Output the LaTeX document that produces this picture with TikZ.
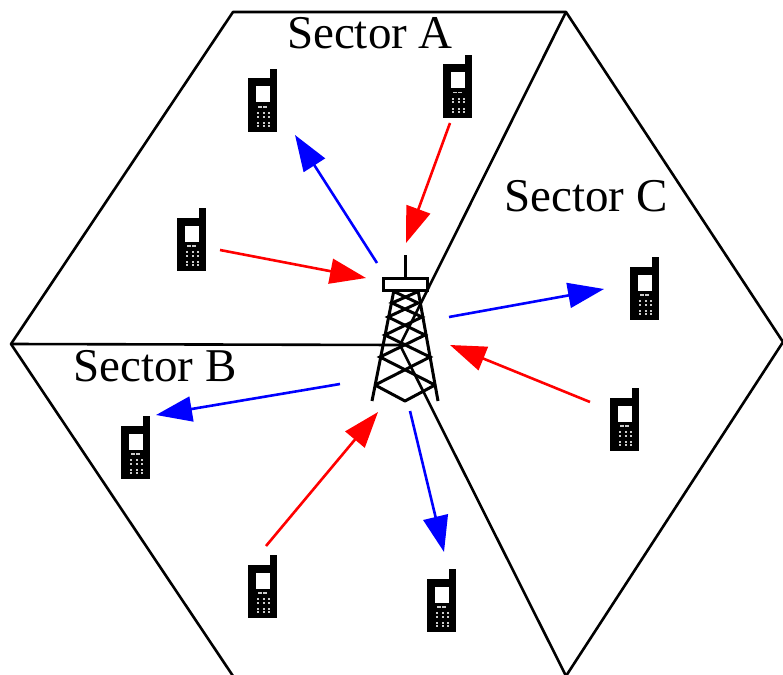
\documentclass[tikz,border=0pt]{standalone}
\usepackage{fontspec}
\setmainfont{Liberation Serif}
\usetikzlibrary{arrows.meta}
\tikzset{
    cell/.style = {
        draw=black,
        line width=2.6pt,
        line join=round,
    },
    tower/.style = {
        draw=black,
        line width=3pt,
    },
    sector/.style = {
        font=\fontsize{47}{47}\selectfont,
        inner sep=0pt,
    },
    phone/.style = {
        minimum width=29pt,
        minimum height=63pt,
        inner sep=0pt,
        outer sep=0pt,
        path picture={
            \fill[black] (path picture bounding box.north east) rectangle ++(-7,63);
            \fill[black] ([yshift=-9.5pt] path picture bounding box.north west) rectangle (path picture bounding box.south east);
            \fill[white] ([shift={(8,17.5)}] path picture bounding box.north west) rectangle ++(14,16);
            \foreach \px in {9.5,15} {
                \fill[white!80!black] ([shift={(\px,37)}] path picture bounding box.north west) rectangle ++(4,1.5);
            }
            \foreach \py in {43,46.5,52.5,56} {
                \foreach \px in {9,15,20} {
                    \fill[white!80!black] ([shift={(\px,\py)}] path picture bounding box.north west) rectangle ++(2,2);
                }
            }
        },
    },
    up link/.style = {
        -{Triangle[length=36pt,width=25pt]},
        draw=red,
        line width=2.6pt,
    },
    down link/.style = {
        -{Triangle[length=36pt,width=25pt]},
        draw=blue,
        line width=2.6pt,
    },
}
\begin{document}
\begin{tikzpicture}[x=1pt,y=-1pt]
    \useasboundingbox (0,0) rectangle (783,674);

    % cell and sector borders
    \draw[cell] (233,676) -- (11,344) -- (233,12) -- (566,12) -- (783,342) -- (566,676);
    \draw[cell] (566,12) -- (400,345) -- (566,676);
    \draw[cell] (11,344) -- (400,345);

    \node[sector] (sectorA) at (370,33) {Sector A};
    \node[sector] (sectorB) at (155,366) {Sector B};
    \node[sector] (sectorC) at (586,196) {Sector C};

    % phones
    \foreach \name/\x/\y in {a/262.5/100.5, b/457.5/86.5, c/191.5/239.5, d/644.5/288.5, e/624.5/419.5, f/135.5/447.5, g/262.5/586.5, h/441.5/600.5} {
        \node[phone] (phone\name) at (\x,\y) {};
    }

    % tower
    \draw[tower] (405,255) -- (405,278);
    \draw[tower] (383,278) rectangle (427,290);
    \draw[tower] (394,290) -- (372,401);
    \draw[tower] (418,290) -- (438,401);
    \draw[tower,line join=round] (375,385) -- (405,401) -- (435,385);
    \draw[tower] (375,385) -- (430,357) -- (385,335) -- (422,317) -- (392,303) -- (417,292);
    \draw[tower] (435,385) -- (380,357) -- (425,335) -- (388,317) -- (418,303) -- (395,292);

    % arrow ends
    \coordinate (inA) at (406,243);
    \coordinate (inB) at (366,278);
    \coordinate (inC) at (450,345);
    \coordinate (inD) at (378,412);
    \coordinate (fromB) at (450,123);
    \coordinate (fromC) at (220,250);
    \coordinate (fromE) at (590,402);
    \coordinate (fromG) at (266,546);
    \coordinate (outA) at (377,263);
    \coordinate (outB) at (449,317);
    \coordinate (outC) at (340,384);
    \coordinate (outD) at (410,411);
    \coordinate (toA) at (295,135);
    \coordinate (toD) at (604,289);
    \coordinate (toF) at (156,415);
    \coordinate (toH) at (444,552);

    \draw[up link] (fromB) -- (inA);
    \draw[up link] (fromC) -- (inB);
    \draw[up link] (fromE) -- (inC);
    \draw[up link] (fromG) -- (inD);
    \draw[down link] (outA) -- (toA);
    \draw[down link] (outB) -- (toD);
    \draw[down link] (outC) -- (toF);
    \draw[down link] (outD) -- (toH);
\end{tikzpicture}
\end{document}
